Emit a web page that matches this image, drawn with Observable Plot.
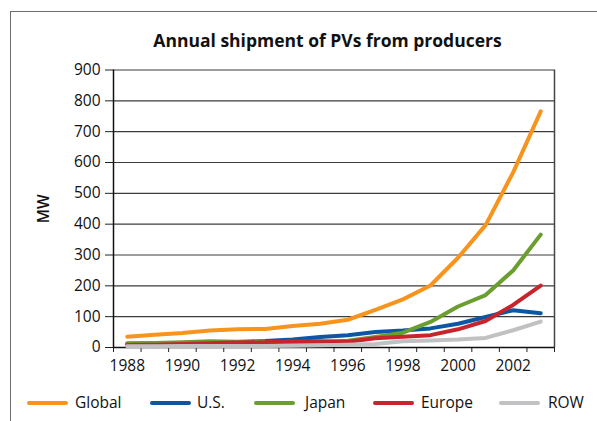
<!DOCTYPE html>
<html><head><meta charset="utf-8">
<script src="https://cdn.jsdelivr.net/npm/d3@7"></script>
<script src="https://cdn.jsdelivr.net/npm/@observablehq/plot@0.6"></script>
<style>
body{margin:0;background:#fff;font-family:"Open Sans",sans-serif;}
#wrap{position:relative;width:597px;height:421px;overflow:hidden;background:#fff;}
#frame{position:absolute;left:10px;top:11px;width:700px;height:500px;border-left:1.5px solid #6e6e6e;border-top:1.5px solid #6e6e6e;}
#title{position:absolute;left:0;top:28px;width:655px;text-align:center;font-weight:bold;font-size:17.5px;line-height:24px;color:#111;}
#chart{position:absolute;left:0;top:0;}
.li{position:absolute;top:401px;width:41px;height:4px;border-radius:2px;}
.lt{position:absolute;top:392px;font-size:15.5px;line-height:20px;color:#111;}
g[aria-label="y-axis label"] text{font-weight:600;font-size:15.5px;}
</style>
</head><body>
<div id="wrap">
<div id="frame"></div>
<div id="chart"></div>
<div id="title">Annual shipment of PVs from producers</div>
<div id="legend"></div>
</div>
<script>
const years = [1988,1989,1990,1991,1992,1993,1994,1995,1996,1997,1998,1999,2000,2001,2002,2003];
const seriesNames = ["Global","U.S.","Japan","Europe","ROW"];
const seriesColors = ["#f7941d","#0b57a4","#6b9e2f","#c7252d","#c1c1c3"];
const globalMW = [35,41,47,55,59,60,70,77,90,122,156,201,291,397,568,766];
const usMW     = [12,14,15,17,18,21,26,34,40,50,55,62,77,99,121,111];
const japanMW  = [14,15,17,20,19,17,17,17,22,34,48,83,133,170,250,366];
const europeMW = [8,9,11,14,16,17,20,20,19,30,35,40,59,86,138,201];
const rowMW    = [4,4,5,5,5,5,6,7,9,11,20,23,26,31,56,84];
const yTicks = [0,100,200,300,400,500,600,700,800,900];
const xLabelTicks = [1988,1990,1992,1994,1996,1998,2000,2002];
const xDomain = [1987.5, 2003.5];
const xTickMarks = years.map(y => y - 0.5).concat([years[years.length-1] + 0.5]);

const valuesBySeries = [globalMW, usMW, japanMW, europeMW, rowMW];
const data = [];
seriesNames.forEach((s, i) => years.forEach((yr, j) => data.push({series: s, year: yr, mw: valuesBySeries[i][j]})));

const chart = Plot.plot({
  width: 597, height: 380,
  marginLeft: 113, marginRight: 43, marginTop: 69.5, marginBottom: 33,
  style: {fontFamily: "'Open Sans', sans-serif", fontSize: "15.5px", color: "#111", background: "transparent"},
  x: {domain: xDomain, axis: null},
  y: {domain: [0, 900], axis: null},
  color: {domain: seriesNames, range: seriesColors},
  marks: [
    Plot.gridY(yTicks, {stroke: "#3c3c3c", strokeOpacity: 1, strokeWidth: 1.2}),
    Plot.axisY(yTicks, {tickSize: 8, tickPadding: 5, stroke: "#222", label: "MW", labelAnchor: "center", labelArrow: "none", labelOffset: 76, fontSize: 15.5}),
    Plot.axisX(xTickMarks, {tickSize: 5, tickPadding: 0, stroke: "#222", tickFormat: () => "", label: null}),
    Plot.axisX(xLabelTicks, {tickSize: 0, tickPadding: 12, tickFormat: d => String(d), label: null, fontSize: 15.5}),
    Plot.ruleX([xDomain[0]], {stroke: "#111", strokeWidth: 1.5}),
    Plot.ruleX([xDomain[1]], {stroke: "#444", strokeWidth: 1.5}),
    Plot.ruleY([0], {stroke: "#111", strokeWidth: 1.5}),
    Plot.line(data, {x: "year", y: "mw", z: "series", stroke: "series", strokeWidth: 4, strokeLinecap: "round", strokeLinejoin: "round"})
  ]
});
document.getElementById("chart").appendChild(chart);

const legendLineX = [27,150,254,373,499];
const legendTextX = [75,197,305,421,548];
const legend = document.getElementById("legend");
seriesNames.forEach((s, i) => {
  const l = document.createElement("div");
  l.className = "li"; l.style.left = legendLineX[i] + "px"; l.style.background = seriesColors[i];
  const t = document.createElement("div");
  t.className = "lt"; t.style.left = legendTextX[i] + "px"; t.textContent = s;
  legend.appendChild(l); legend.appendChild(t);
});
</script>
</body></html>
